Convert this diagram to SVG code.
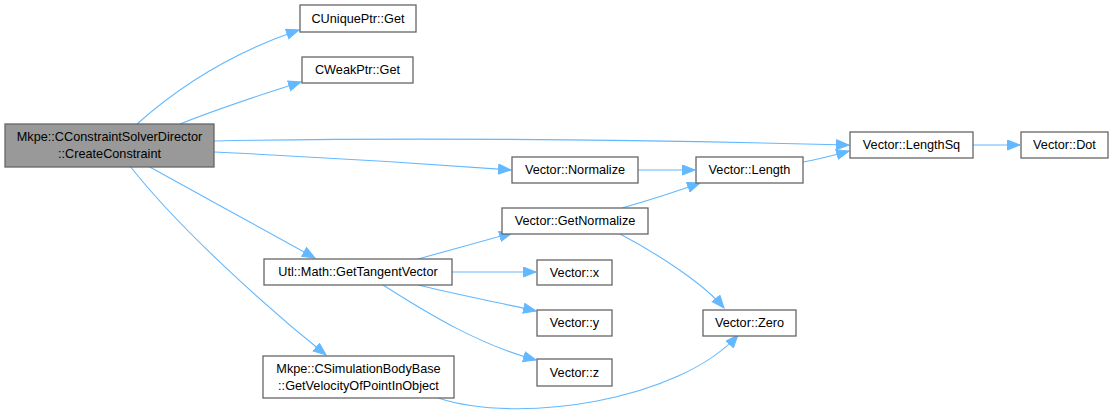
<svg xmlns="http://www.w3.org/2000/svg" width="1114" height="418" viewBox="0 0 1114 418">
<style>
.n rect{fill:#fff;stroke:#666;stroke-width:1.3}
.n text{font-family:"Liberation Sans",Arial,sans-serif;font-size:12.7px;fill:#000;text-anchor:middle}
#main rect{fill:#999}
.e{fill:none;stroke:#63b8ff;stroke-width:1.1}
</style>
<defs>
<marker id="ah" markerUnits="userSpaceOnUse" markerWidth="14" markerHeight="12" refX="13" refY="5.5" orient="auto">
<path d="M0.5,0.5 L13,5.5 L0.5,10.5 Z" fill="#63b8ff" stroke="#63b8ff"/>
</marker>
</defs>
<g id="edges">
<path class="e" marker-end="url(#ah)" d="M137,124 C175,90 225,55 299,30"/>
<path class="e" marker-end="url(#ah)" d="M180,124 C215,110 260,95 301,82"/>
<path class="e" marker-end="url(#ah)" d="M214,141 C420,137 650,140 849,145"/>
<path class="e" marker-end="url(#ah)" d="M214,152 C320,157 430,164 511,170"/>
<path class="e" marker-end="url(#ah)" d="M148,166 C200,195 265,230 315,258"/>
<path class="e" marker-end="url(#ah)" d="M130,166 C180,230 270,310 326,355"/>
<path class="e" marker-end="url(#ah)" d="M638,170 L695,170"/>
<path class="e" marker-end="url(#ah)" d="M803,162 C820,159 835,155 849,151"/>
<path class="e" marker-end="url(#ah)" d="M622,208 C650,200 675,192 700,183"/>
<path class="e" marker-end="url(#ah)" d="M620,234 C660,255 705,285 724,308"/>
<path class="e" marker-end="url(#ah)" d="M418,259 C450,250 480,242 512,233"/>
<path class="e" marker-end="url(#ah)" d="M452,272 L536,272"/>
<path class="e" marker-end="url(#ah)" d="M418,285 C455,294 500,303 536,311"/>
<path class="e" marker-end="url(#ah)" d="M383,285 C430,315 480,345 536,360"/>
<path class="e" marker-end="url(#ah)" d="M438,398 C520,425 680,400 738,335"/>
<path class="e" marker-end="url(#ah)" d="M973,145 L1020,145"/>
</g>
<g id="main" class="n"><rect x="5" y="124" width="209" height="43"/><text x="109.5" y="141">Mkpe::CConstraintSolverDirector</text><text x="109.5" y="158">::CreateConstraint</text></g>
<g id="uniqueptr" class="n"><rect x="300" y="5" width="116" height="27"/><text x="358" y="23">CUniquePtr::Get</text></g>
<g id="weakptr" class="n"><rect x="302" y="57" width="111" height="26"/><text x="357.5" y="74">CWeakPtr::Get</text></g>
<g id="lengthsq" class="n"><rect x="850" y="132" width="123" height="26"/><text x="911.5" y="149">Vector::LengthSq</text></g>
<g id="dot" class="n"><rect x="1021" y="132" width="87" height="26"/><text x="1064.5" y="149">Vector::Dot</text></g>
<g id="normalize" class="n"><rect x="512" y="157" width="126" height="26"/><text x="575" y="174">Vector::Normalize</text></g>
<g id="length" class="n"><rect x="696" y="157" width="107" height="26"/><text x="749.5" y="174">Vector::Length</text></g>
<g id="getnormalize" class="n"><rect x="502" y="208" width="146" height="26"/><text x="575" y="225">Vector::GetNormalize</text></g>
<g id="tangent" class="n"><rect x="264" y="259" width="188" height="26"/><text x="358" y="276">Utl::Math::GetTangentVector</text></g>
<g id="vx" class="n"><rect x="537" y="260" width="75" height="25"/><text x="574.5" y="277">Vector::x</text></g>
<g id="vy" class="n"><rect x="537" y="310" width="75" height="26"/><text x="574.5" y="327">Vector::y</text></g>
<g id="vz" class="n"><rect x="537" y="359" width="75" height="27"/><text x="574.5" y="377">Vector::z</text></g>
<g id="zero" class="n"><rect x="703" y="310" width="93" height="26"/><text x="749.5" y="327">Vector::Zero</text></g>
<g id="simbody" class="n"><rect x="263" y="356" width="191" height="42"/><text x="358.5" y="373">Mkpe::CSimulationBodyBase</text><text x="358.5" y="390">::GetVelocityOfPointInObject</text></g>
</svg>
